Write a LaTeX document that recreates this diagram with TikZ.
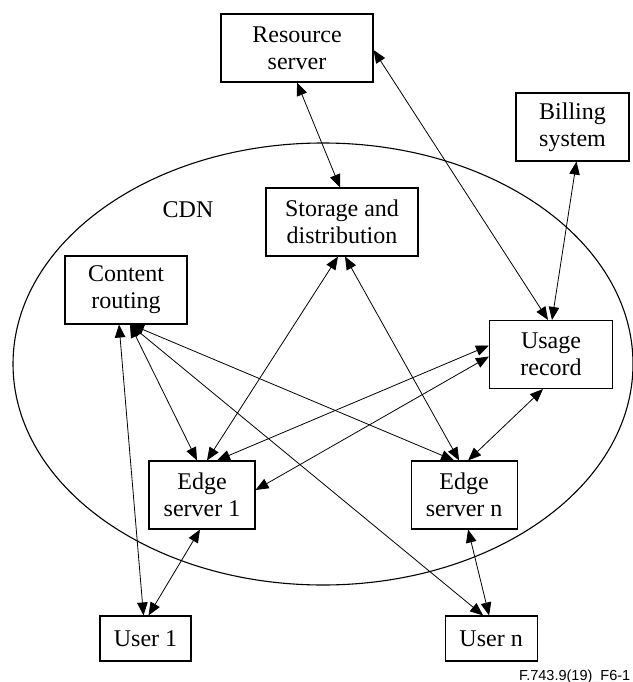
\documentclass[tikz,border=0pt]{standalone}
\usepackage{fontspec}
\setmainfont{Liberation Serif}
\newfontfamily\capfont{Liberation Sans}
\usetikzlibrary{shapes.geometric, arrows.meta, positioning}
\tikzstyle{process} = [rectangle, minimum height=68pt, align=center, draw=black, line width=1.1pt, inner sep=2pt, font=\fontsize{24}{27}\selectfont]
\tikzstyle{arrow} = [line width=0.8pt, <->, >={Triangle[length=13pt, width=10.5pt]}]

\begin{document}
\begin{tikzpicture}[x=1pt, y=-1pt, node distance=1cm]
	\useasboundingbox (0,0) rectangle (632,682);
	\node (cdn) [ellipse, draw=black, line width=1.1pt, minimum width=620pt, minimum height=442pt] at (323,364) {};
	\node (cdnlabel) [font=\fontsize{24}{27}\selectfont] at (188,210) {CDN};

	\node (res) [process, minimum width=152pt] at (297,48) {Resource\\server};
	\node (bill) [process, minimum width=113pt] at (572.5,127) {Billing\\system};
	\node (stor) [process, minimum width=152pt] at (342,222) {Storage and\\distribution};
	\node (route) [process, minimum width=122pt] at (126,290) {Content\\routing};
	\node (usage) [process, minimum width=123pt] at (551,354.5) {Usage\\record};
	\node (edge1) [process, minimum width=106pt] at (202,495) {Edge\\server 1};
	\node (edgen) [process, minimum width=106pt, right=155pt of edge1] {Edge\\server n};
	\node (user1) [process, minimum width=91pt, minimum height=45pt] at (145.5,638.5) {User 1};
	\node (usern) [process, minimum width=92pt, minimum height=45pt, right=253pt of user1] {User n};
	\node (figid) [anchor=base east, inner sep=0pt, font=\capfont\fontsize{14.5}{16}\selectfont] at (630.5,680) {F.743.9(19)\_F6-1};

	\draw [arrow] (res.south) -- ([xshift=-2pt]stor.north);
	\draw [arrow] ([yshift=-2pt]res.east) -- ([xshift=-3pt]usage.north);
	\draw [arrow] ([xshift=4pt]bill.south) -- ([xshift=1pt]usage.north);
	\draw [arrow] ([xshift=-4pt]stor.south) -- ([xshift=5pt]edge1.north);
	\draw [arrow] ([xshift=3pt]stor.south) -- ([xshift=-5pt]edgen.north);
	\draw [arrow] ([xshift=4pt]route.south) -- ([xshift=-5pt]edge1.north);
	\draw [arrow] ([xshift=5pt]route.south) -- ([xshift=-10pt]edgen.north);
	\draw [arrow] ([xshift=4pt]route.south) -- ([xshift=-8pt]usern.north);
	\draw [arrow] ([xshift=-7pt]route.south) -- ([xshift=-2pt]user1.north);
	\draw [arrow] ([xshift=15pt]edge1.north) -- ([yshift=9pt]usage.west);
	\draw [arrow] ([yshift=5pt]edge1.east) -- ([yshift=-2pt]usage.west);
	\draw [arrow] ([xshift=-8pt]usage.south) -- ([xshift=4pt]edgen.north);
	\draw [arrow] ([xshift=-2pt]edge1.south) -- ([xshift=3pt]user1.north);
	\draw [arrow] ([xshift=4pt]edgen.south) -- ([xshift=-2pt]usern.north);
\end{tikzpicture}
\end{document}
